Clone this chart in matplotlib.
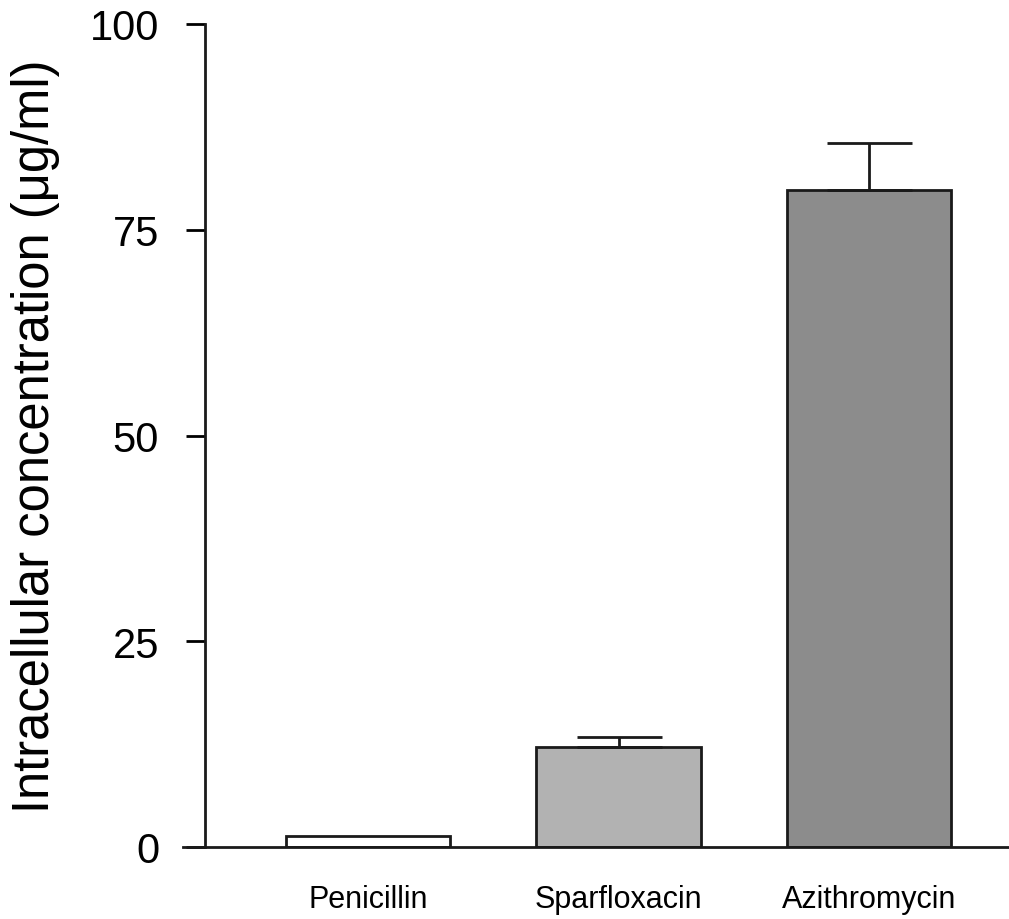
import matplotlib
matplotlib.use("Agg")
import matplotlib.pyplot as plt

plt.rcParams["font.family"] = ["Liberation Sans", "DejaVu Sans"]

categories = ["Penicillin", "Sparfloxacin", "Azithromycin"]
values = [1.3, 12.2, 79.8]
errors = [0.0, 1.2, 5.7]
colors = ["#ffffff", "#b2b2b2", "#8c8c8c"]
yticks = [0, 25, 50, 75, 100]

W, H = 1009, 920
fig = plt.figure(figsize=(W / 100, H / 100), dpi=100)
ax_left = 183
ax = fig.add_axes([ax_left / W, 1 - 848 / H, (W - ax_left) / W, (848 - 25) / H])

x = list(range(len(categories)))
ax.bar(x, values, width=0.656, color=colors, edgecolor="#1a1a1a", linewidth=2, zorder=2)
for xi, v, e in zip(x, values, errors):
    if e > 0:
        ax.errorbar([xi], [v], yerr=[[0], [e]], fmt="none", ecolor="#1a1a1a",
                    elinewidth=2, capsize=30.6, capthick=2, zorder=3)

ax.set_xlim(-0.74, 2.56)
ax.set_ylim(0, 100)
ax.set_yticks(yticks)
ax.set_yticklabels([str(t) for t in yticks])
ax.set_xticks(x)
ax.set_xticklabels(categories)
ax.tick_params(axis="x", length=0, pad=27, labelsize=22)
ax.tick_params(axis="y", direction="out", length=14, width=2, pad=19, labelsize=30)

for s in ["top", "right"]:
    ax.spines[s].set_visible(False)
ax.spines["left"].set_position(("axes", (205 - ax_left) / (W - ax_left)))
ax.spines["left"].set_linewidth(2)
ax.spines["bottom"].set_linewidth(2)
ax.spines["left"].set_color("#1a1a1a")
ax.spines["bottom"].set_color("#1a1a1a")

fig.text(36 / W, 1 - 436 / H, "Intracellular concentration (μg/ml)", rotation=90,
         ha="center", va="center", fontsize=36.5)

fig.savefig("out.png", dpi=100)
